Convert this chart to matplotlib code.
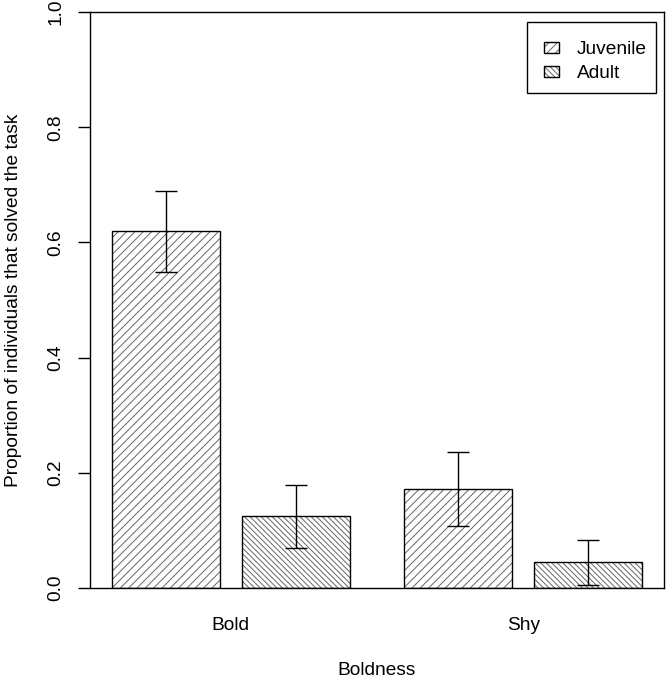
import matplotlib
matplotlib.use("Agg")
import matplotlib.pyplot as plt
from matplotlib.patches import Rectangle
import numpy as np

# ------------------------------------------------------------
# Data
# ------------------------------------------------------------
groups = ["Bold", "Shy"]
series = ["Juvenile", "Adult"]
juvenile = [0.619, 0.172]
juvenile_lo = [0.549, 0.107]
juvenile_hi = [0.690, 0.236]
adult = [0.125, 0.045]
adult_lo = [0.070, 0.006]
adult_hi = [0.178, 0.084]

HATCHES = {"Juvenile": "////", "Adult": "\\" * 6}
HATCH_COLOR = "#666666"
FS = 13.8

plt.rcParams["font.family"] = ["Liberation Sans", "DejaVu Sans"]
plt.rcParams["hatch.linewidth"] = 0.7

W, H = 666, 679
fig = plt.figure(figsize=(W / 100, H / 100), dpi=100)
ax = fig.add_axes([90 / W, 1 - 588 / H, (664 - 90) / W, (588 - 12) / H])

# R barplot(beside=TRUE, space=c(0.2, 0.5)) layout, bar width 1
width = 1.0
group_left = np.array([0.2, 2.9])
x_juv = group_left + width / 2
x_adu = group_left + 1.2 + width / 2


def hatched_bars(x, heights, hatch):
    # hatch layer in grey, outline drawn on top in black
    ax.bar(x, heights, width=width, color="white", edgecolor=HATCH_COLOR,
           hatch=hatch, linewidth=0, zorder=2)
    ax.bar(x, heights, width=width, facecolor="none", edgecolor="black",
           linewidth=1.0, zorder=3)


hatched_bars(x_juv, juvenile, HATCHES["Juvenile"])
hatched_bars(x_adu, adult, HATCHES["Adult"])

for x, v, lo, hi in ((x_juv, juvenile, juvenile_lo, juvenile_hi),
                     (x_adu, adult, adult_lo, adult_hi)):
    v = np.array(v)
    yerr = [v - np.array(lo), np.array(hi) - v]
    ax.errorbar(x, v, yerr=yerr, fmt="none", ecolor="black",
                elinewidth=1.0, capsize=7.6, capthick=1.0, zorder=4)

ax.set_xlim(0, 5.3)
ax.set_ylim(0, 1.0)

ax.set_yticks([0.0, 0.2, 0.4, 0.6, 0.8, 1.0])
ax.set_yticklabels(["0.0", "0.2", "0.4", "0.6", "0.8", "1.0"],
                   rotation=90, va="center")
ax.tick_params(axis="y", length=8.6, width=1.0, pad=10, labelsize=FS)

ax.set_xticks((x_juv + x_adu) / 2)
ax.set_xticklabels(groups)
ax.tick_params(axis="x", length=0, pad=21, labelsize=FS)

for s in ax.spines.values():
    s.set_linewidth(1.0)

ax.set_ylabel("Proportion of individuals that solved the task", fontsize=FS)
ax.yaxis.set_label_coords(-0.118, 0.5)
ax.set_xlabel("Boldness", fontsize=FS)
ax.xaxis.set_label_coords(0.5, -0.128)


# Legend drawn by hand, R style (box with small hatched squares)
def fx(px):
    return px / W


def fy(py):
    return 1 - py / H


fig.patches.append(Rectangle((fx(527), fy(93)), fx(656) - fx(527), fy(22) - fy(93),
                             transform=fig.transFigure, facecolor="white",
                             edgecolor="black", linewidth=1.0, zorder=5))
for name, yc in zip(series, (47.5, 71.5)):
    for kw in (dict(facecolor="white", edgecolor=HATCH_COLOR, hatch=HATCHES[name], linewidth=0),
               dict(facecolor="none", edgecolor="black", linewidth=1.0)):
        fig.patches.append(Rectangle((fx(544), fy(yc + 5.5)), fx(559) - fx(544), fy(yc - 5.5) - fy(yc + 5.5),
                                     transform=fig.transFigure, zorder=6, **kw))
    fig.text(fx(577), fy(yc), name, fontsize=FS, ha="left", va="center_baseline", zorder=7)

fig.savefig("out.png", dpi=100, facecolor="white")
